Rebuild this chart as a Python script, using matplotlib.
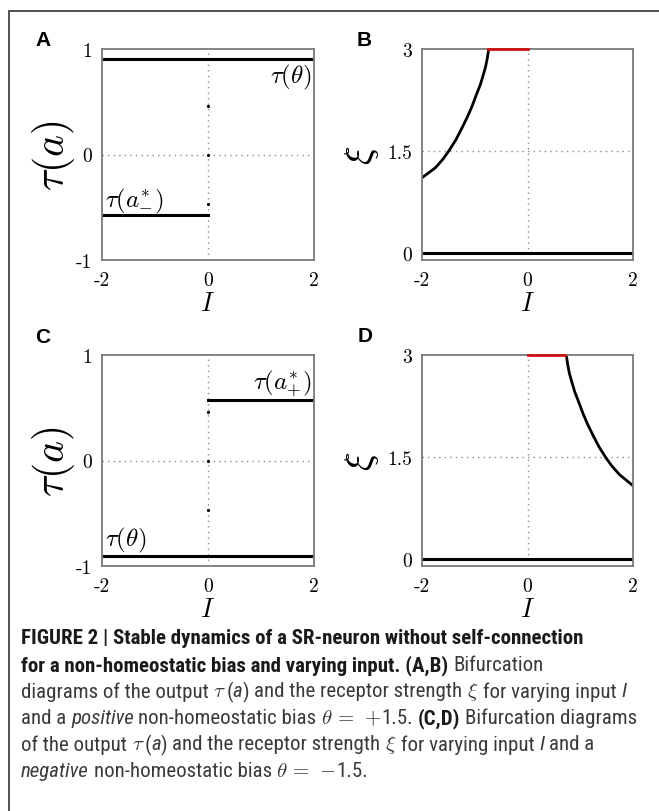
import matplotlib
matplotlib.use('Agg')
import matplotlib.pyplot as plt
from matplotlib.patches import Rectangle

W, H = 659, 812

# ---- data ----
I_ticks = [-2, 0, 2]
tau_ticks = [-1, 0, 1]
xi_ticks = [0, 1.5, 3]

# panel A (theta = +1.5)
tau_theta_A = 0.905
tau_aminus_A = -0.575
# panel C (theta = -1.5)
tau_theta_C = -0.905
tau_aplus_C = 0.57
# unstable points at I = 0
dots_tau = [0.46, 0.0, -0.465]

# panel B: receptor strength branch
I_B = [-2.0, -1.874, -1.748, -1.609, -1.495, -1.356, -1.242, -1.135,
       -1.052, -0.970, -0.895, -0.838, -0.794, -0.762, -0.737]
xi_B = [1.108, 1.181, 1.254, 1.376, 1.498, 1.669, 1.840, 2.010,
        2.157, 2.328, 2.474, 2.621, 2.742, 2.865, 2.99]
red_B = [-0.74, 0.0]

# panel D
I_D = [2.0, 1.874, 1.748, 1.609, 1.495, 1.356, 1.242, 1.135,
       1.052, 0.970, 0.895, 0.838, 0.794, 0.762, 0.737]
xi_D = [1.08, 1.16, 1.24, 1.36, 1.48, 1.65, 1.82, 1.99,
        2.14, 2.31, 2.46, 2.61, 2.73, 2.86, 2.99]
red_D = [0.0, 0.72]

xi_zero = 0.0
xi_top = 3.0

plt.rcParams['font.family'] = 'serif'
plt.rcParams['font.serif'] = ['cmr10', 'DejaVu Serif']
plt.rcParams['mathtext.fontset'] = 'cm'
plt.rcParams['axes.unicode_minus'] = False

fig = plt.figure(figsize=(W / 100, H / 100), dpi=100)

SPINE = '#7a7a7a'
GRIDC = '#8a8a8a'


def fig_ax(left, top, right, bottom):
    return fig.add_axes([left / W, 1 - bottom / H, (right - left) / W, (bottom - top) / H])


def style(ax, yticks, ylim, ylabel, ylab_x, ylab_size, grid_y):
    ax.set_xlim(-2, 2)
    ax.set_ylim(ylim)
    ax.set_xticks(I_ticks, [str(v) for v in I_ticks])
    ax.set_yticks(yticks, [('%g' % v) for v in yticks])
    ax.tick_params(axis='x', length=0, labelsize=14, pad=8)
    ax.tick_params(axis='y', length=0, labelsize=14, pad=7)
    for s in ax.spines.values():
        s.set_color(SPINE)
        s.set_linewidth(1.3)
    ax.axvline(0, ls=(0, (1, 3)), color=GRIDC, lw=1, zorder=0)
    ax.axhline(grid_y, ls=(0, (1, 3)), color=GRIDC, lw=1, zorder=0)
    ax.set_xlabel(r'$I$', fontsize=19, va='center')
    ax.xaxis.set_label_coords(0.5, -0.205)
    ax.set_ylabel(ylabel, fontsize=ylab_size, va='center')
    ax.yaxis.set_label_coords(ylab_x, 0.5)


axA = fig_ax(102, 50, 314, 261)
axB = fig_ax(422, 50, 633, 261)
axC = fig_ax(102, 356, 314, 567)
axD = fig_ax(422, 356, 633, 567)

# A
style(axA, tau_ticks, (-1, 1), r'$\tau(a)$', -0.228, 30, 0)
axA.plot([-2, 2], [tau_theta_A, tau_theta_A], color='k', lw=2.2)
axA.plot([-2, 0], [tau_aminus_A, tau_aminus_A], color='k', lw=2.2)
axA.plot([0] * len(dots_tau), dots_tau, 'k.', ms=2.5)
axA.text(1.95, 0.74, r'$\tau(\theta)$', fontsize=18, ha='right', va='center')
axA.text(-1.94, -0.44, r'$\tau(a_{-}^{*})$', fontsize=18, ha='left', va='center')

# B
style(axB, xi_ticks, (-0.1, 3), r'$\xi$', -0.285, 28, 1.5)
axB.plot(I_B, xi_B, color='k', lw=2)
axB.plot([-2, 2], [xi_zero, xi_zero], color='k', lw=2.2)
axB.plot(red_B, [xi_top, xi_top], color='#cc1111', lw=2, clip_on=False, zorder=5)

# C
style(axC, tau_ticks, (-1, 1), r'$\tau(a)$', -0.228, 30, 0)
axC.plot([-2, 2], [tau_theta_C, tau_theta_C], color='k', lw=2.2)
axC.plot([0, 2], [tau_aplus_C, tau_aplus_C], color='k', lw=2.2)
axC.plot([0] * len(dots_tau), dots_tau, 'k.', ms=2.5)
axC.text(1.95, 0.74, r'$\tau(a_{+}^{*})$', fontsize=18, ha='right', va='center')
axC.text(-1.94, -0.745, r'$\tau(\theta)$', fontsize=18, ha='left', va='center')

# D
style(axD, xi_ticks, (-0.1, 3), r'$\xi$', -0.285, 28, 1.5)
axD.plot(I_D, xi_D, color='k', lw=2)
axD.plot([-2, 2], [xi_zero, xi_zero], color='k', lw=2.2)
axD.plot(red_D, [xi_top, xi_top], color='#cc1111', lw=2, clip_on=False, zorder=5)

# panel letters
SANS = ['Liberation Sans', 'DejaVu Sans']
for lab, x, y in [('A', 43, 41), ('B', 364, 41), ('C', 43, 338), ('D', 365, 337)]:
    fig.text(x / W, 1 - y / H, lab, fontsize=15, weight='bold', family=SANS,
             ha='center', va='center')

# outer frame (right and bottom edges lie outside the image)
fig.patches.append(Rectangle((9 / W, -0.1), 1.2, 1 - 12 / H + 0.1, transform=fig.transFigure,
                             fill=False, edgecolor='#333333', lw=1.2))

# ---- caption ----
CAP = ['Liberation Sans Narrow', 'Roboto Condensed', 'Roboto', 'DejaVu Sans']
renderer = fig.canvas.get_renderer()

B, N, IT = 'bold', 'normal', 'italic'
caption = [
    [('FIGURE 2 | Stable dynamics of a SR-neuron without self-connection', B)],
    [('for a non-homeostatic bias and varying input. (A,B)', B), (' Bifurcation', N)],
    [('diagrams of the output', N), (' $\\tau$', N), ('(', N), ('a', IT), (')', N),
     (' and the receptor strength', N), (' $\\xi$', N), (' for varying input', N), (' I', IT)],
    [('and a', N), (' positive', IT), (' non-homeostatic bias', N), (' $\\theta\\,=\\,+$', N),
     ('1.5.', N), (' (C,D)', B), (' Bifurcation diagrams', N)],
    [('of the output', N), (' $\\tau$', N), ('(', N), ('a', IT), (')', N),
     (' and the receptor strength', N), (' $\\xi$', N), (' for varying input', N),
     (' I', IT), (' and a', N)],
    [('negative', IT), (' non-homeostatic bias', N), (' $\\theta\\,=\\,-$', N), ('1.5.', N)],
]
line_y = [639, 665.5, 692, 718.5, 745, 771.5]


def draw_row(row, y, size, draw=True):
    sp = fig.text(0, 0, 'x x', fontsize=size, family=CAP)
    sq = fig.text(0, 0, 'xx', fontsize=size, family=CAP)
    space_w = sp.get_window_extent(renderer).width - sq.get_window_extent(renderer).width
    sp.remove()
    sq.remove()
    x = 21.0
    for txt, kind in row:
        if txt.startswith(' '):
            x += space_w
            txt = txt[1:]
        weight = 'bold' if kind == B else 'normal'
        st = 'italic' if kind == IT else 'normal'
        color = '#1a1a1a' if kind == B else '#3a3a3a'
        t = fig.text(x / W, 1 - y / H, txt, fontsize=size, weight=weight, style=st,
                     family=CAP, color=color, va='center')
        x += t.get_window_extent(renderer).width
        if not draw:
            t.remove()
    return x - 21.0


# fit the caption font so the longest lines end where the reference ones do
targets = {0: 626, 2: 620, 3: 618}
size = min(16.0 * w / draw_row(caption[i], 0, 16.0, draw=False) for i, w in targets.items())

for row, y in zip(caption, line_y):
    draw_row(row, y, size)

fig.savefig('out.png', dpi=100)
